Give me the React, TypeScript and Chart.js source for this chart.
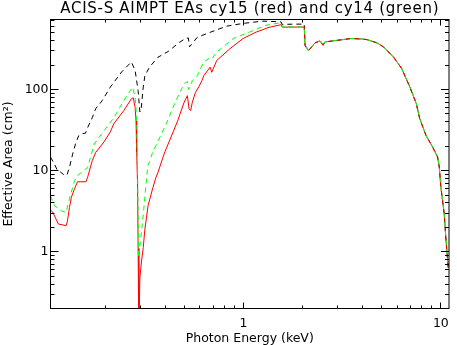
import React, { useEffect, useRef } from 'react';
import { Chart, registerables } from 'chart.js';

Chart.register(...registerables);

const FONT = 'DejaVu Sans';
const TITLE = 'ACIS-S AIMPT EAs cy15 (red) and cy14 (green)';
const X_TITLE = 'Photon Energy (keV)';
const Y_TITLE = 'Effective Area (cm²)';
const X_MIN = 0.105;
const X_MAX = 11;
const Y_MIN = 0.2;
const Y_MAX = 730;

// shared high-energy tail (all three curves coincide above ~2 keV)
const tailE = [2.05, 2.13, 2.21, 2.3, 2.44, 2.53, 2.58, 2.89, 3.0, 3.5, 4.0, 4.23, 4.75, 5.13, 5.75, 6.33, 6.96, 7.51, 7.81, 8.42, 9.09, 9.63, 9.82, 10.0, 10.4, 10.6, 10.9];
const tailA = [350, 302, 333, 376, 398, 352, 386, 400, 405, 425, 420, 412, 376, 334, 252, 182, 108, 67, 44, 27, 19.5, 14.7, 11.1, 6.3, 2.95, 1.5, 0.64];

// black dashed curve
const blackE = [0.105, 0.11, 0.114, 0.118, 0.122, 0.127, 0.131, 0.136, 0.141, 0.146, 0.152, 0.158, 0.162, 0.171, 0.178, 0.192, 0.211, 0.241, 0.27, 0.282, 0.292, 0.298, 0.302, 0.31, 0.316, 0.334, 0.368, 0.415, 0.472, 0.507, 0.525, 0.532, 0.545, 0.582, 0.675, 0.82, 0.993, 1.25, 1.505, 1.55, 1.565, 1.8, 2.03];
const blackA = [14.7, 12, 10, 9.6, 9.0, 8.7, 11, 16, 22, 27, 28.5, 29, 34, 45, 58, 73, 107, 165, 219, 171, 97, 53, 55, 107, 148, 190, 250, 295, 380, 426, 432, 336, 360, 440, 506, 604, 653, 697, 685, 682, 635, 640, 640];

// green dashed curve (cy14)
const greenE = [0.105, 0.11, 0.119, 0.126, 0.131, 0.139, 0.144, 0.162, 0.175, 0.196, 0.22, 0.247, 0.27, 0.274, 0.282, 0.287, 0.29, 0.2925, 0.2935, 0.2946, 0.304, 0.312, 0.319, 0.327, 0.334, 0.345, 0.36, 0.405, 0.454, 0.49, 0.507, 0.519, 0.525, 0.54, 0.55, 0.582, 0.604, 0.628, 0.677, 0.69, 0.731, 0.886, 1.071, 1.297, 1.51, 1.555, 1.57, 1.975, 2.03];
const greenA = [4.9, 3.7, 3.2, 3.06, 4.5, 7.5, 8.7, 11, 21.3, 31, 45, 73, 102, 107, 80, 45, 10, 2, 0.85, 0.94, 1.8, 3.4, 6.2, 11.5, 13, 16.5, 20.5, 37.6, 73, 107, 122, 125, 100, 112, 129, 148, 180, 218, 245, 238, 290, 425, 510, 620, 660, 665, 595, 590, 590];

// red solid curve (cy15)
const redE = [0.105, 0.108, 0.115, 0.126, 0.128, 0.131, 0.134, 0.139, 0.144, 0.159, 0.162, 0.171, 0.178, 0.196, 0.211, 0.22, 0.247, 0.27, 0.276, 0.282, 0.285, 0.287, 0.29, 0.292, 0.2945, 0.298, 0.304, 0.31, 0.316, 0.328, 0.347, 0.36, 0.368, 0.397, 0.42, 0.463, 0.5, 0.519, 0.529, 0.539, 0.55, 0.57, 0.593, 0.616, 0.628, 0.677, 0.69, 0.731, 0.852, 0.993, 1.157, 1.347, 1.552, 1.57, 1.975, 2.03];
const redA = [3.27, 3.06, 2.2, 2.1, 2.4, 3.5, 4.7, 6.0, 7.3, 7.3, 8.3, 13.3, 16.8, 22.6, 30, 38, 55, 77, 79, 60, 41, 17, 7, 1.1, 0.1, 0.48, 0.77, 1.13, 1.9, 3.7, 6.2, 8.3, 9.5, 16.5, 23, 41, 70, 84, 58, 55, 70, 92, 108, 130, 148, 189, 163, 228, 318, 425, 510, 585, 630, 588, 590, 590];

const toPts = (e: number[], a: number[]) => e.map((x, i) => ({ x, y: a[i] }));

const isPow10 = (v: number) => {
  const l = Math.log10(v);
  return Math.abs(l - Math.round(l)) < 1e-6;
};

const logTicks = (min: number, max: number) => {
  const out: { value: number; major: boolean }[] = [];
  for (let e = Math.floor(Math.log10(min)); e <= Math.ceil(Math.log10(max)); e++) {
    for (let m = 1; m <= 9; m++) {
      const v = m * Math.pow(10, e);
      if (v > min * 1.0001 && v < max * 0.9999) out.push({ value: v, major: m === 1 });
    }
  }
  return out;
};

const framePlugin = {
  id: 'frameTicks',
  afterDatasetsDraw(chart: any) {
    const { ctx, chartArea: ca, scales } = chart;
    const xs = scales.x;
    const ys = scales.y;
    ctx.save();
    ctx.strokeStyle = '#000';
    ctx.lineWidth = 1;
    ctx.setLineDash([]);
    ctx.strokeRect(ca.left, ca.top, ca.right - ca.left, ca.bottom - ca.top);
    ctx.beginPath();
    for (const t of logTicks(X_MIN, X_MAX)) {
      const p = Math.floor(xs.getPixelForValue(t.value)) + 0.5;
      const len = t.major ? 6 : 3;
      ctx.moveTo(p, ca.bottom);
      ctx.lineTo(p, ca.bottom - len);
      ctx.moveTo(p, ca.top);
      ctx.lineTo(p, ca.top + len);
    }
    for (const t of logTicks(Y_MIN, Y_MAX)) {
      const p = Math.floor(ys.getPixelForValue(t.value)) + 0.5;
      const len = t.major ? 8 : 4;
      ctx.moveTo(ca.left, p);
      ctx.lineTo(ca.left + len, p);
      ctx.moveTo(ca.right, p);
      ctx.lineTo(ca.right - len, p);
    }
    ctx.stroke();
    ctx.restore();
  },
  afterDraw(chart: any) {
    const { ctx, chartArea: ca } = chart;
    ctx.save();
    ctx.fillStyle = '#000';
    ctx.font = `15px "${FONT}"`;
    try { (ctx as any).letterSpacing = '0.7px'; } catch (e) { /* ignore */ }
    ctx.textAlign = 'center';
    ctx.textBaseline = 'alphabetic';
    ctx.fillText(TITLE, (ca.left + ca.right) / 2, 13);
    ctx.restore();
  },
};

export default function App() {
  const ref = useRef<HTMLCanvasElement | null>(null);
  useEffect(() => {
    if (!ref.current) return;
    Chart.defaults.font.family = FONT;
    const tickFont = { family: FONT, size: 12.5 };
    const chart = new Chart(ref.current, {
      type: 'line',
      data: {
        datasets: [
          {
            label: 'cy14',
            data: toPts(greenE.concat(tailE), greenA.concat(tailA)),
            borderColor: '#00ff00',
            borderWidth: 1,
            borderDash: [5, 4],
            pointRadius: 0,
            fill: false,
            tension: 0,
          },
          {
            label: 'cy15',
            data: toPts(redE.concat(tailE), redA.concat(tailA)),
            borderColor: '#ff0000',
            borderWidth: 1,
            pointRadius: 0,
            fill: false,
            tension: 0,
          },
          {
            label: 'ref',
            data: toPts(blackE.concat(tailE), blackA.concat(tailA)),
            borderColor: '#000000',
            borderWidth: 1,
            borderDash: [5, 4],
            pointRadius: 0,
            fill: false,
            tension: 0,
          },
        ],
      },
      options: {
        responsive: false,
        animation: false,
        devicePixelRatio: 1,
        layout: { padding: { top: 19.5, right: 0.5, left: 0, bottom: 0 } },
        plugins: {
          legend: { display: false },
          tooltip: { enabled: false },
          title: { display: false },
        },
        scales: {
          x: {
            type: 'logarithmic',
            min: X_MIN,
            max: X_MAX,
            grid: { display: false, drawTicks: false },
            border: { display: false },
            ticks: {
              autoSkip: false,
              maxRotation: 0,
              minRotation: 0,
              padding: 8,
              color: '#000',
              font: tickFont,
              callback: (v: any) => (isPow10(Number(v)) ? String(Math.pow(10, Math.round(Math.log10(Number(v))))) : ''),
            },
            title: {
              display: true,
              text: X_TITLE,
              color: '#000',
              font: { family: FONT, size: 12.5, lineHeight: 1 },
              padding: { top: 0, bottom: 0 },
            },
            afterFit: (s: any) => { s.height = 36.5; },
          },
          y: {
            type: 'logarithmic',
            min: Y_MIN,
            max: Y_MAX,
            grid: { display: false, drawTicks: false },
            border: { display: false },
            ticks: {
              autoSkip: false,
              padding: 2,
              color: '#000',
              font: tickFont,
              callback: (v: any) => (isPow10(Number(v)) ? String(Math.pow(10, Math.round(Math.log10(Number(v))))) : ''),
            },
            title: {
              display: true,
              text: Y_TITLE,
              color: '#000',
              font: { family: FONT, size: 12.5, lineHeight: 1 },
              padding: { top: 2, bottom: 0 },
            },
            afterFit: (s: any) => { s.width = 50.5; },
          },
        },
      } as any,
      plugins: [framePlugin],
    });
    return () => chart.destroy();
  }, []);
  return (
    <div style={{ position: 'absolute', left: 0, top: 0, width: 457, height: 345, background: '#fff' }}>
      <canvas ref={ref} width={457} height={345} style={{ display: 'block', width: 457, height: 345 }} />
    </div>
  );
}
